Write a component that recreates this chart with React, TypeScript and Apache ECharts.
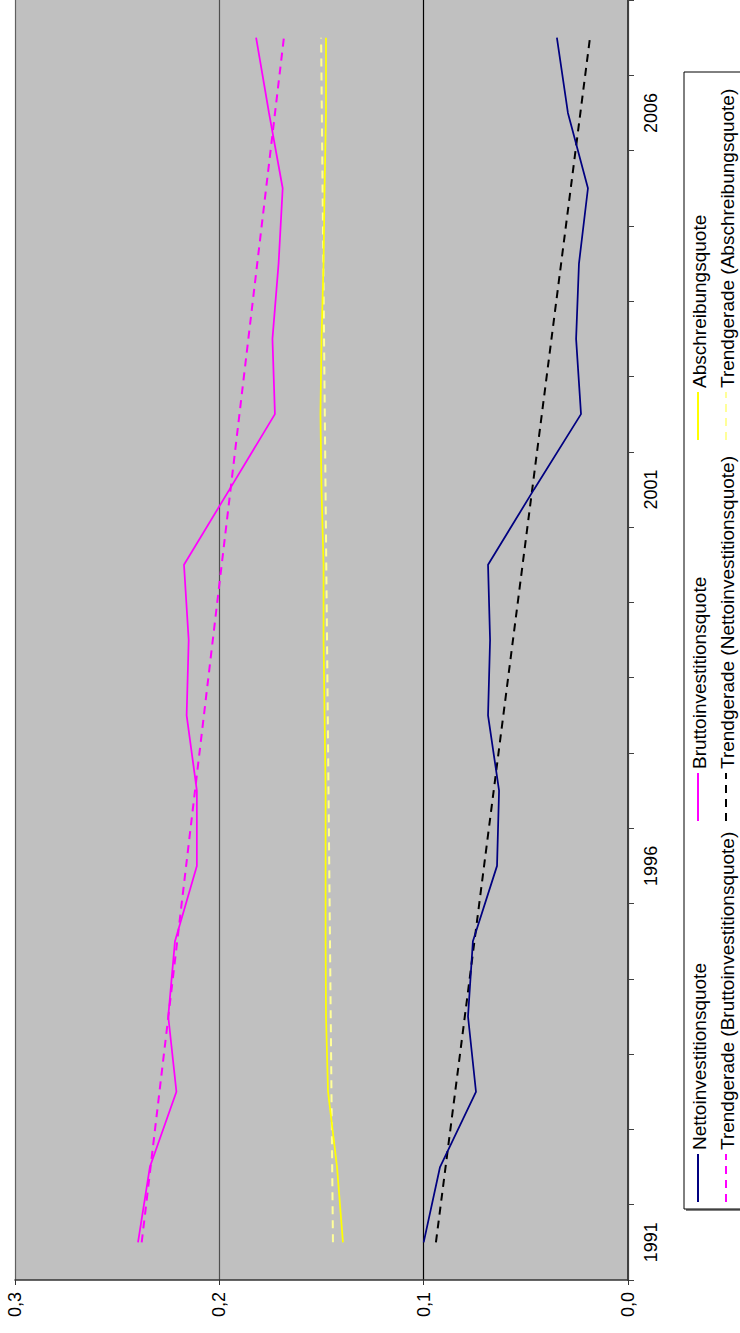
import React, { useEffect, useRef } from "react";
import * as echarts from "echarts";

const years = ["1991","1992","1993","1994","1995","1996","1997","1998","1999","2000","2001","2002","2003","2004","2005","2006","2007"];
const netto = [0.100, 0.092, 0.0744, 0.0783, 0.0759, 0.0641, 0.0631, 0.0685, 0.0675, 0.0685, 0.046, 0.023, 0.0254, 0.024, 0.0196, 0.0294, 0.0348];
const brutto = [0.2398, 0.234, 0.221, 0.225, 0.2217, 0.211, 0.211, 0.216, 0.215, 0.2173, 0.195, 0.1728, 0.174, 0.171, 0.169, 0.1757, 0.182];
const abschreibung = [0.1395, 0.1424, 0.1468, 0.1478, 0.148, 0.148, 0.148, 0.1485, 0.149, 0.149, 0.150, 0.1505, 0.150, 0.149, 0.1485, 0.1478, 0.1478];
const trendBruttoEnds = [0.238, 0.1684];
const trendNettoEnds = [0.094, 0.0186];
const trendAbschrEnds = [0.1444, 0.1502];
const valueTicks = [0, 0.1, 0.2, 0.3];

const legendNames = [
  "Nettoinvestitionsquote",
  "Bruttoinvestitionsquote",
  "Abschreibungsquote",
  "Trendgerade (Bruttoinvestitionsquote)",
  "Trendgerade (Nettoinvestitionsquote)",
  "Trendgerade (Abschreibungsquote)",
];

const FONT = "'Liberation Sans', Arial, sans-serif";

function trendData(ends: number[]) {
  return years.map((_, i) => (i === 0 ? ends[0] : i === years.length - 1 ? ends[1] : null));
}

export default function App() {
  const ref = useRef<HTMLDivElement>(null);
  useEffect(() => {
    if (!ref.current) return;
    const chart = echarts.init(ref.current, undefined, { renderer: "svg" });

    const legendItems = [
      { name: legendNames[0], color: "#000080", dash: null as any, col: 0, slot: 0 },
      { name: legendNames[1], color: "#FF00FF", dash: null, col: 0, slot: 1 },
      { name: legendNames[2], color: "#FFFF00", dash: null, col: 0, slot: 2 },
      { name: legendNames[3], color: "#FF00FF", dash: [8, 6], col: 1, slot: 0 },
      { name: legendNames[4], color: "#000000", dash: [8, 6], col: 1, slot: 1 },
      { name: legendNames[5], color: "#FFFF99", dash: [8, 6], col: 1, slot: 2 },
    ];
    const colX = [698, 726];
    const slotStart = [1202, 821, 440];
    const legendGraphics: any[] = [
      { type: "rect", shape: { x: 686, y: 74, width: 120, height: 1137 }, style: { fill: "#808080" }, z: 10 },
      { type: "rect", shape: { x: 684, y: 72, width: 120, height: 1137 }, style: { fill: "#ffffff", stroke: "#000", lineWidth: 1 }, z: 11 },
    ];
    legendItems.forEach((it) => {
      const x = colX[it.col];
      const y0 = slotStart[it.slot];
      legendGraphics.push({
        type: "line",
        z: 12,
        shape: { x1: x, y1: y0, x2: x, y2: y0 - 48 },
        style: { stroke: it.color, lineWidth: 2, lineDash: it.dash || undefined },
      });
      legendGraphics.push({
        type: "text",
        z: 12,
        x: x + 1,
        y: y0 - 52,
        rotation: Math.PI / 2,
        style: { text: it.name, fontSize: 19, fontFamily: FONT, fill: "#000", align: "left", verticalAlign: "middle" },
      });
    });

    chart.setOption({
      animation: false,
      backgroundColor: "#ffffff",
      grid: { left: 15, right: 112, top: 0, bottom: 53, show: true, backgroundColor: "#C0C0C0", borderWidth: 0 },
      xAxis: {
        type: "value",
        inverse: true,
        min: valueTicks[0],
        max: valueTicks[valueTicks.length - 1],
        interval: 0.1,
        position: "bottom",
        axisLine: { show: true, lineStyle: { color: "#333", width: 1.5 } },
        axisTick: { show: true, length: 5, lineStyle: { color: "#333" } },
        axisLabel: {
          rotate: 90,
          margin: 12,
          fontSize: 18,
          fontFamily: FONT,
          color: "#000",
          formatter: (v: number) => v.toFixed(1).replace(".", ","),
        },
        splitLine: { show: true, lineStyle: { color: ["#404040", "#000000", "#505050", "#606060"], width: 1.2 } },
      },
      yAxis: {
        type: "category",
        data: years,
        position: "right",
        boundaryGap: true,
        axisLine: { show: true, lineStyle: { color: "#404040", width: 2 } },
        axisTick: { show: true, length: 6, interval: 0, lineStyle: { color: "#404040" } },
        axisLabel: { rotate: 90, interval: 4, margin: 14, fontSize: 18, fontFamily: FONT, color: "#000" },
        splitLine: { show: false },
      },
      graphic: legendGraphics,
      series: [
        { name: legendNames[3], type: "line", data: trendData(trendBruttoEnds), connectNulls: true, symbol: "none", lineStyle: { color: "#FF00FF", width: 2, type: [8, 6] } },
        { name: legendNames[4], type: "line", data: trendData(trendNettoEnds), connectNulls: true, symbol: "none", lineStyle: { color: "#000000", width: 2, type: [8, 6] } },
        { name: legendNames[5], type: "line", data: trendData(trendAbschrEnds), connectNulls: true, symbol: "none", lineStyle: { color: "#FFFF99", width: 2, type: [8, 6] } },
        { name: legendNames[0], type: "line", data: netto, symbol: "none", lineStyle: { color: "#000080", width: 1.75 } },
        { name: legendNames[1], type: "line", data: brutto, symbol: "none", lineStyle: { color: "#FF00FF", width: 1.75 } },
        { name: legendNames[2], type: "line", data: abschreibung, symbol: "none", lineStyle: { color: "#FFFF00", width: 1.75 } },
      ],
    });
    return () => chart.dispose();
  }, []);
  return <div ref={ref} style={{ position: "absolute", left: 0, top: 0, width: 740, height: 1333 }} />;
}
